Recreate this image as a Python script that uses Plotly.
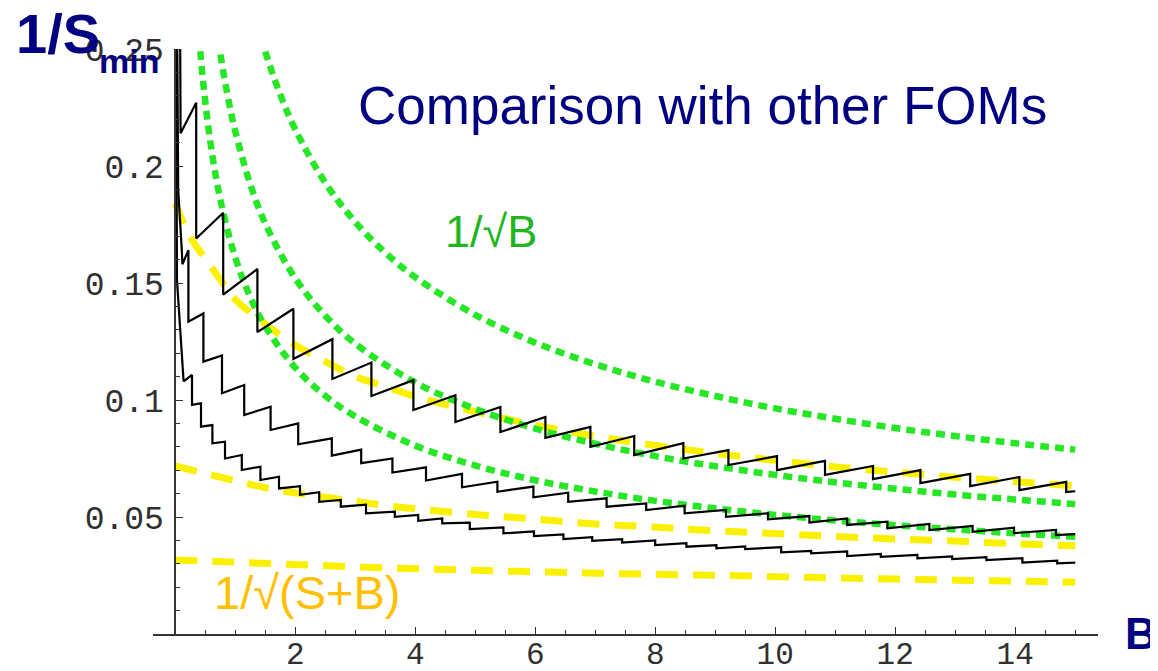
import plotly.graph_objects as go

# ---------------- data ----------------
# Black staircase curves: lead-in points near B=0, then jumps (B, value before drop, value after drop)
A_lead_B = [0.08, 0.09]
A_lead_v = [0.27, 0.214]
A_jump_B = [0.35, 0.80, 1.37, 1.97, 2.62, 3.27, 3.97, 4.67, 5.42, 6.17, 6.92, 7.65, 8.47,
            9.22, 10.03, 10.83, 11.63, 12.42, 13.25, 14.07, 14.85]
A_top = [0.227, 0.180, 0.156, 0.139, 0.126, 0.116, 0.1085, 0.102, 0.097, 0.0927, 0.0885, 0.0846, 0.0816,
         0.0786, 0.076, 0.074, 0.0718, 0.070, 0.0684, 0.0671, 0.065]
A_bot = [0.169, 0.145, 0.129, 0.1175, 0.109, 0.1017, 0.0957, 0.0906, 0.0863, 0.0838, 0.080, 0.0765, 0.0750,
         0.0722, 0.070, 0.068, 0.0662, 0.0645, 0.0632, 0.0615, 0.0607]
A_end = (15.0, 0.0610)

B_lead_B = [0.03, 0.05, 0.11, 0.12]
B_lead_v = [0.27, 0.19, 0.164, 0.158]
B_jump_B = [0.22, 0.47, 0.78, 1.15, 1.59, 2.05, 2.61, 3.10, 3.62, 4.18, 4.78, 5.37, 5.97, 6.55, 7.19,
            7.85, 8.49, 9.18, 9.88, 10.57, 11.20, 11.87, 12.57, 13.29, 13.98, 14.68]
B_top = [0.164, 0.137, 0.119, 0.1064, 0.0971, 0.090, 0.0836, 0.0788, 0.075, 0.0712, 0.0684, 0.0651, 0.063,
         0.0604, 0.058, 0.0558, 0.0548, 0.053, 0.0516, 0.0504, 0.0494, 0.048, 0.047, 0.0462, 0.0454, 0.0445]
B_bot = [0.1335, 0.1164, 0.1029, 0.0936, 0.0872, 0.0811, 0.0762, 0.073, 0.069, 0.0656, 0.0627, 0.0608, 0.0584,
         0.0565, 0.0544, 0.053, 0.0516, 0.0501, 0.049, 0.0476, 0.0466, 0.0452, 0.0444, 0.0437, 0.0431, 0.0423]
B_end = (15.0, 0.0427)

C_lead_B = [0.01, 0.02, 0.03, 0.14]
C_lead_v = [0.27, 0.19, 0.151, 0.108]
C_jump_B = [0.28, 0.43, 0.62, 0.83, 1.11, 1.42, 1.73, 2.08, 2.40, 2.76, 3.18, 3.66, 4.05, 4.45, 4.91, 5.47,
            5.98, 6.47, 6.95, 7.45, 8.00, 8.52, 9.02, 9.50, 10.10, 10.60, 11.20, 11.76, 12.37, 12.95, 13.52,
            14.12, 14.70]
C_top = [0.1107, 0.0986, 0.0893, 0.0822, 0.0765, 0.0715, 0.0672, 0.0632, 0.0606, 0.0573, 0.0553, 0.0523,
         0.0509, 0.0494, 0.0476, 0.0456, 0.0438, 0.0426, 0.0414, 0.0405, 0.0400, 0.0388, 0.0380, 0.0374,
         0.0371, 0.0355, 0.0353, 0.0342, 0.0338, 0.0332, 0.0328, 0.0324, 0.0313]
C_bot = [0.0979, 0.0886, 0.0815, 0.0750, 0.0701, 0.0658, 0.0622, 0.0595, 0.0565, 0.0544, 0.0516, 0.0501,
         0.0484, 0.0473, 0.0448, 0.0430, 0.0418, 0.0406, 0.0398, 0.0391, 0.0380, 0.0373, 0.0366, 0.0363,
         0.0349, 0.0345, 0.0333, 0.0330, 0.0323, 0.0320, 0.0316, 0.0305, 0.0302]
C_end = (15.0, 0.0305)

# Green dotted 1/sqrt(B) curves
G1_B = [1.3, 1.5, 1.75, 2, 2.5, 3, 3.5, 4, 5, 6, 7, 8, 9, 10, 11, 12, 13, 14, 15]
G1_v = [0.2675, 0.249, 0.2306, 0.2157, 0.1929, 0.1761, 0.163, 0.1525, 0.1364, 0.1245, 0.1153, 0.1078,
        0.1017, 0.0964, 0.092, 0.088, 0.0846, 0.0815, 0.0788]
G2_B = [0.65, 0.75, 0.9, 1.0, 1.25, 1.5, 2, 2.5, 3, 4, 5, 6, 7, 8, 9, 10, 11, 12, 13, 14, 15]
G2_v = [0.2667, 0.2483, 0.2266, 0.215, 0.1923, 0.1755, 0.152, 0.136, 0.1241, 0.1075, 0.0962, 0.0878,
        0.0813, 0.076, 0.0717, 0.068, 0.0648, 0.0621, 0.0596, 0.0575, 0.0555]
G3_B = [0.36, 0.42, 0.5, 0.6, 0.75, 1.0, 1.25, 1.5, 2, 2.5, 3, 4, 5, 6, 7, 8, 9, 10, 11, 12, 13, 14, 15]
G3_v = [0.2683, 0.2484, 0.2277, 0.2078, 0.1859, 0.161, 0.144, 0.1315, 0.1138, 0.1018, 0.093, 0.0805,
        0.072, 0.0657, 0.0609, 0.0569, 0.0537, 0.0509, 0.0485, 0.0465, 0.0447, 0.043, 0.0416]

# Yellow dashed 1/sqrt(S+B) curves
Y1_B = [0, 0.25, 0.5, 0.75, 1, 1.5, 2, 2.5, 3, 3.5, 4, 5, 6, 7, 8, 9, 10, 11, 12, 13, 14, 15]
Y1_v = [0.184, 0.1698, 0.1605, 0.1515, 0.143, 0.1325, 0.1235, 0.1164, 0.110, 0.1058, 0.1015, 0.095,
        0.0893, 0.0845, 0.0806, 0.0772, 0.0742, 0.0714, 0.0692, 0.0670, 0.0651, 0.0633]
Y2_B = [0, 0.5, 1, 1.5, 2, 2.5, 3, 3.5, 4, 5, 6, 7, 8, 9, 10, 11, 12, 13, 14, 15]
Y2_v = [0.0718, 0.0686, 0.0655, 0.0625, 0.0603, 0.0584, 0.0567, 0.0549, 0.0535, 0.0511, 0.0491, 0.0470,
        0.0457, 0.0441, 0.0429, 0.0417, 0.0406, 0.0397, 0.0386, 0.0377]
Y3_B = [0, 1, 2, 3, 4, 5, 6, 7, 8, 9, 10, 11, 12, 13, 14, 15]
Y3_v = [0.0316, 0.0307, 0.0297, 0.0287, 0.0279, 0.0272, 0.0266, 0.0260, 0.0255, 0.0251, 0.0245, 0.0240,
        0.0235, 0.0230, 0.0226, 0.0221]

x_tickvals = [2, 4, 6, 8, 10, 12, 14]
y_tickvals = [0.05, 0.1, 0.15, 0.2, 0.25]
y_ticktext = ["0.05", "0.1", "0.15", "0.2", "0.25"]

# ---------------- figure ----------------
# The page body has an 8px margin, so the figure is 8px smaller than the window
OFF = 8
W, H = 1158 - OFF, 671 - OFF
ML, MR, MT, MB = 153 - OFF, 60, 49 - OFF, 37
XR = [-0.37, 15.38]
YR = [0.0, 0.25]


def px(sx):  # screenshot x -> paper
    return (sx - OFF - ML) / (W - ML - MR)


def py(sy):  # screenshot y -> paper
    return (H - MB - (sy - OFF)) / (H - MT - MB)


def saw(lead_x, lead_y, jb, top, bot, end):
    xs, ys = list(lead_x), list(lead_y)
    for b, t, lo in zip(jb, top, bot):
        xs += [b, b]
        ys += [t, lo]
    xs.append(end[0])
    ys.append(end[1])
    return xs, ys


fig = go.Figure()

YEL = "#fbf000"
GRN = "#26e626"
for xs, ys in [(Y1_B, Y1_v), (Y2_B, Y2_v), (Y3_B, Y3_v)]:
    fig.add_trace(go.Scatter(x=xs, y=ys, mode="lines", line_shape="spline",
                             line=dict(color=YEL, width=7, dash="22px,15px"),
                             showlegend=False, hoverinfo="skip"))
for xs, ys in [(G1_B, G1_v), (G2_B, G2_v), (G3_B, G3_v)]:
    fig.add_trace(go.Scatter(x=xs, y=ys, mode="lines", line_shape="spline",
                             line=dict(color=GRN, width=6.5, dash="9px,6px"),
                             showlegend=False, hoverinfo="skip"))
for args in [(A_lead_B, A_lead_v, A_jump_B, A_top, A_bot, A_end),
             (B_lead_B, B_lead_v, B_jump_B, B_top, B_bot, B_end),
             (C_lead_B, C_lead_v, C_jump_B, C_top, C_bot, C_end)]:
    xs, ys = saw(*args)
    fig.add_trace(go.Scatter(x=xs, y=ys, mode="lines",
                             line=dict(color="black", width=2.2),
                             showlegend=False, hoverinfo="skip"))

ytickfont = dict(family="Liberation Mono, Courier New, monospace", size=33, color="#303030")
xtickfont = dict(family="Liberation Mono, Courier New, monospace", size=31, color="#303030")
fig.update_layout(
    width=W, height=H,
    margin=dict(l=ML, r=MR, t=MT, b=MB, autoexpand=False),
    paper_bgcolor="white", plot_bgcolor="white",
    xaxis=dict(range=XR, showgrid=False, zeroline=False, showline=True, linecolor="#333333",
               linewidth=1.5, ticks="inside", ticklen=7, tickwidth=1.2, tickcolor="#333333",
               tickvals=x_tickvals, tickfont=xtickfont, ticklabelstandoff=-9, automargin=False,
               minor=dict(dtick=0.5, tick0=0, ticks="inside", ticklen=4, tickwidth=1.2,
                          tickcolor="#333333", showgrid=False)),
    yaxis=dict(range=YR, showgrid=False, zeroline=False, showline=True, linecolor="#333333",
               linewidth=1.5, anchor="free", position=(0 - XR[0]) / (XR[1] - XR[0]),
               ticks="inside", ticklen=7, tickwidth=1.2, tickcolor="#333333", automargin=False,
               tickvals=y_tickvals, ticktext=y_ticktext, tickfont=ytickfont, ticklabelstandoff=4,
               minor=dict(dtick=0.01, tick0=0, ticks="inside", ticklen=4, tickwidth=1.2,
                          tickcolor="#333333", showgrid=False)),
)

NAVY = "#000080"
ann = [
    dict(text="Comparison with other FOMs", x=px(702), y=py(105), size=53, color=NAVY, bold=False),
    dict(text="1/√B", x=px(491), y=py(231), size=45, color="#22b522", bold=False),
    dict(text="1/√(S+B)", x=px(307), y=py(592), size=47, color="#ffc000", bold=False),
    dict(text="1/S", x=px(58), y=py(33), size=56, color=NAVY, bold=True),
    dict(text="min", x=px(129), y=py(61), size=34, color=NAVY, bold=True),
    dict(text="B", x=px(1141), y=py(633), size=44, color=NAVY, bold=True),
]
for a in ann:
    fig.add_annotation(text=("<b>%s</b>" % a["text"]) if a["bold"] else a["text"],
                       x=a["x"], y=a["y"], xref="paper", yref="paper",
                       xanchor="center", yanchor="middle", showarrow=False,
                       font=dict(family="Liberation Sans, Arial, sans-serif", size=a["size"],
                                 color=a["color"]))

fig.write_html("out.html")
